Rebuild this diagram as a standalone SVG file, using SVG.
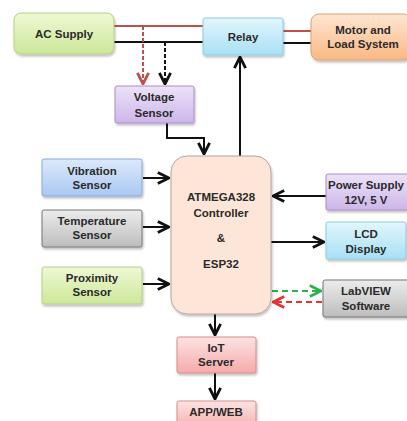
<svg xmlns="http://www.w3.org/2000/svg" width="407" height="421" viewBox="0 0 407 421">
<defs>
<linearGradient id="gGreen" x1="0" y1="0" x2="0" y2="1"><stop offset="0" stop-color="#eef8d4"/><stop offset="1" stop-color="#cde89a"/></linearGradient>
<linearGradient id="gBlue" x1="0" y1="0" x2="0" y2="1"><stop offset="0" stop-color="#dde9fb"/><stop offset="1" stop-color="#a9c8f2"/></linearGradient>
<linearGradient id="gCyan" x1="0" y1="0" x2="0" y2="1"><stop offset="0" stop-color="#e2f6fd"/><stop offset="1" stop-color="#a8e0f5"/></linearGradient>
<linearGradient id="gOrange" x1="0" y1="0" x2="0" y2="1"><stop offset="0" stop-color="#fee6d2"/><stop offset="1" stop-color="#f9b884"/></linearGradient>
<linearGradient id="gPurple" x1="0" y1="0" x2="0" y2="1"><stop offset="0" stop-color="#ece2f7"/><stop offset="1" stop-color="#cdb6ea"/></linearGradient>
<linearGradient id="gGrey" x1="0" y1="0" x2="0" y2="1"><stop offset="0" stop-color="#ececec"/><stop offset="1" stop-color="#bdbdbd"/></linearGradient>
<linearGradient id="gRed" x1="0" y1="0" x2="0" y2="1"><stop offset="0" stop-color="#fde3e3"/><stop offset="1" stop-color="#f5aaaa"/></linearGradient>
<filter id="sh" x="-10%" y="-10%" width="130%" height="140%"><feDropShadow dx="1" dy="2" stdDeviation="1.2" flood-color="#000" flood-opacity="0.25"/></filter>
<marker id="ak" viewBox="0 0 10 10" refX="9" refY="5" markerWidth="7" markerHeight="7" orient="auto-start-reverse"><path d="M1,1 L9,5 L1,9" fill="none" stroke="#111" stroke-width="2"/></marker>
<marker id="ar" viewBox="0 0 10 10" refX="9" refY="5" markerWidth="7" markerHeight="7" orient="auto-start-reverse"><path d="M1,1 L9,5 L1,9" fill="none" stroke="#c0504d" stroke-width="2"/></marker>
<marker id="ag" viewBox="0 0 10 10" refX="9" refY="5" markerWidth="7" markerHeight="7" orient="auto-start-reverse"><path d="M1,1 L9,5 L1,9" fill="none" stroke="#2db34a" stroke-width="2"/></marker>
<marker id="ared" viewBox="0 0 10 10" refX="9" refY="5" markerWidth="7" markerHeight="7" orient="auto-start-reverse"><path d="M1,1 L9,5 L1,9" fill="none" stroke="#e53333" stroke-width="2"/></marker>
</defs>
<style>
text{font-family:"Liberation Sans",Arial,sans-serif;font-weight:bold;font-size:11.5px;fill:#2a2a2a;text-anchor:middle}
.box{filter:url(#sh);stroke-width:1}
.ln{fill:none;stroke:#111;stroke-width:2}
</style>
<rect width="407" height="421" fill="#fff"/>
<g id="connectors">
<line x1="114" y1="26" x2="203" y2="26" stroke="#c0504d" stroke-width="2"/>
<line x1="114" y1="42" x2="203" y2="42" class="ln"/>
<line x1="283" y1="31" x2="311" y2="31" stroke="#c0504d" stroke-width="2"/>
<line x1="283" y1="43" x2="311" y2="43" class="ln"/>
<line x1="143" y1="26" x2="143" y2="84" stroke="#c0504d" stroke-width="2" stroke-dasharray="4,2" marker-end="url(#ar)"/>
<line x1="165" y1="42" x2="165" y2="84" class="ln" stroke-dasharray="4,2" marker-end="url(#ak)"/>
<polyline points="167,123 167,138 204,138 204,154" class="ln" marker-end="url(#ak)"/>
<line x1="240" y1="156" x2="240" y2="57" class="ln" marker-end="url(#ak)"/>
<line x1="143" y1="178" x2="169" y2="178" class="ln" marker-end="url(#ak)"/>
<line x1="143" y1="227" x2="169" y2="227" class="ln" marker-end="url(#ak)"/>
<line x1="143" y1="284" x2="169" y2="284" class="ln" marker-end="url(#ak)"/>
<line x1="326" y1="196" x2="273" y2="196" class="ln" marker-end="url(#ak)"/>
<line x1="271" y1="242" x2="324" y2="242" class="ln" marker-end="url(#ak)"/>
<line x1="272" y1="291" x2="321" y2="291" stroke="#2db34a" stroke-width="2" stroke-dasharray="6,4" marker-end="url(#ag)"/>
<line x1="322" y1="302" x2="273" y2="302" stroke="#e53333" stroke-width="2" stroke-dasharray="6,4" marker-end="url(#ared)"/>
<line x1="215" y1="314" x2="215" y2="335" class="ln" marker-end="url(#ak)"/>
<line x1="215" y1="373" x2="215" y2="399" class="ln" marker-end="url(#ak)"/>
</g>
<g id="ac-supply"><rect class="box" x="14" y="13" width="100" height="41" rx="7" fill="url(#gGreen)" stroke="#b5cf86"/><text x="64" y="38">AC Supply</text></g>
<g id="relay"><rect class="box" x="203" y="18" width="80" height="37" rx="2" fill="url(#gCyan)" stroke="#8ccbe0"/><text x="243" y="41">Relay</text></g>
<g id="motor"><rect class="box" x="311" y="14" width="100" height="46" rx="8" fill="url(#gOrange)" stroke="#e0a070"/><text x="363" y="34">Motor and</text><text x="363" y="48">Load System</text></g>
<g id="voltage-sensor"><rect class="box" x="115" y="86" width="79" height="37" rx="2" fill="url(#gPurple)" stroke="#a98cc9"/><text x="154" y="101">Voltage</text><text x="154" y="117">Sensor</text></g>
<g id="controller"><rect class="box" x="171" y="156" width="100" height="158" rx="16" fill="#fde6d8" stroke="#b9a2a0"/><text x="221" y="201">ATMEGA328</text><text x="221" y="217">Controller</text><text x="221" y="242">&amp;</text><text x="221" y="268">ESP32</text></g>
<g id="vibration-sensor"><rect class="box" x="42" y="159" width="100" height="37" rx="2" fill="url(#gBlue)" stroke="#8aaad6"/><text x="92" y="175">Vibration</text><text x="92" y="189">Sensor</text></g>
<g id="temperature-sensor"><rect class="box" x="42" y="210" width="100" height="37" rx="2" fill="url(#gGrey)" stroke="#777"/><text x="92" y="225">Temperature</text><text x="92" y="239">Sensor</text></g>
<g id="proximity-sensor"><rect class="box" x="42" y="267" width="100" height="37" rx="2" fill="url(#gGreen)" stroke="#b5cf86"/><text x="92" y="282">Proximity</text><text x="92" y="296">Sensor</text></g>
<g id="power-supply"><rect class="box" x="326" y="174" width="90" height="36" rx="2" fill="url(#gPurple)" stroke="#a98cc9"/><text x="366" y="189">Power Supply</text><text x="366" y="204">12V, 5 V</text></g>
<g id="lcd-display"><rect class="box" x="326" y="222" width="80" height="37" rx="2" fill="url(#gCyan)" stroke="#8ccbe0"/><text x="366" y="238">LCD</text><text x="366" y="253">Display</text></g>
<g id="labview"><rect class="box" x="323" y="280" width="90" height="37" rx="2" fill="url(#gGrey)" stroke="#777"/><text x="366" y="295">LabVIEW</text><text x="366" y="310">Software</text></g>
<g id="iot-server"><rect class="box" x="177" y="337" width="79" height="36" rx="2" fill="url(#gRed)" stroke="#d98a8a"/><text x="216" y="352">IoT</text><text x="216" y="366">Server</text></g>
<g id="app-web"><rect class="box" x="177" y="401" width="79" height="30" rx="2" fill="url(#gRed)" stroke="#d98a8a"/><text x="216" y="416">APP/WEB</text></g>
</svg>
